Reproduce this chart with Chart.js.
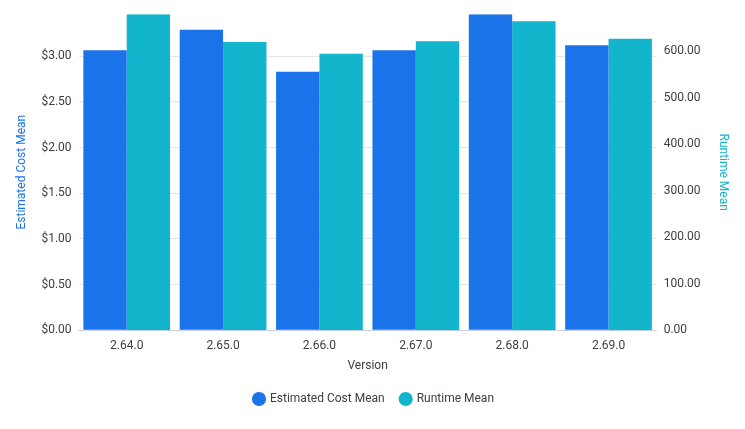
<!DOCTYPE html>
<html lang="en">
<head>
    <meta charset="UTF-8">
    <title>Estimated Cost vs Runtime</title>
    <script src="https://cdn.jsdelivr.net/npm/chart.js"></script>
    <style>
        html, body { margin: 0; padding: 0; background: #fff; }
        #wrap { width: 745px; height: 429px; position: relative; }
    </style>
</head>
<body>
    <div id="wrap"><canvas id="chart"></canvas></div>

    <script>
        const versions = ['2.64.0', '2.65.0', '2.66.0', '2.67.0', '2.68.0', '2.69.0'];
        const costMean = [3.065, 3.29, 2.83, 3.065, 3.46, 3.12];
        const runtimeMean = [679, 619, 594, 621, 664, 626];

        const blue = '#1a73e8';
        const cyan = '#12b5cb';

        Chart.defaults.font.family = 'Roboto, sans-serif';
        Chart.defaults.font.size = 12;
        Chart.defaults.color = '#3c4043';

        // keep only the round step ticks, drop the data-max tick on top
        const stepTicks = step => axis => {
            axis.ticks = axis.ticks.filter(t => Math.abs(t.value / step - Math.round(t.value / step)) < 1e-6);
        };

        new Chart(document.getElementById('chart'), {
            type: 'bar',
            data: {
                labels: versions,
                datasets: [
                    { label: 'Estimated Cost Mean', data: costMean, backgroundColor: blue, yAxisID: 'y' },
                    { label: 'Runtime Mean', data: runtimeMean, backgroundColor: cyan, yAxisID: 'y1' }
                ]
            },
            options: {
                responsive: true,
                maintainAspectRatio: false,
                animation: false,
                categoryPercentage: 0.9,
                barPercentage: 1.0,
                layout: { padding: { left: 10, right: 7, top: 6, bottom: 14 } },
                plugins: {
                    legend: {
                        position: 'bottom',
                        labels: { usePointStyle: true, pointStyle: 'circle', boxWidth: 10, boxHeight: 10, padding: 16 }
                    },
                    tooltip: { enabled: false }
                },
                scales: {
                    x: {
                        grid: { display: false },
                        border: { color: '#c8d0e0' },
                        ticks: { padding: 1 },
                        title: { display: true, text: 'Version', padding: { top: 4, bottom: 4 } }
                    },
                    y: {
                        position: 'left',
                        min: 0,
                        max: Math.max(...costMean),
                        afterBuildTicks: stepTicks(0.5),
                        ticks: { stepSize: 0.5, callback: v => '$' + v.toFixed(2), padding: 7 },
                        grid: { color: '#e6e6e6', drawTicks: false },
                        border: { display: false },
                        title: { display: true, text: 'Estimated Cost Mean', color: blue, padding: 5 }
                    },
                    y1: {
                        position: 'right',
                        min: 0,
                        max: Math.max(...runtimeMean),
                        afterBuildTicks: stepTicks(100),
                        ticks: { stepSize: 100, callback: v => v.toFixed(2), padding: 7 },
                        grid: { display: false, drawTicks: false },
                        border: { display: false },
                        title: { display: true, text: 'Runtime Mean', color: cyan, padding: 8 }
                    }
                }
            }
        });
    </script>
</body>
</html>
